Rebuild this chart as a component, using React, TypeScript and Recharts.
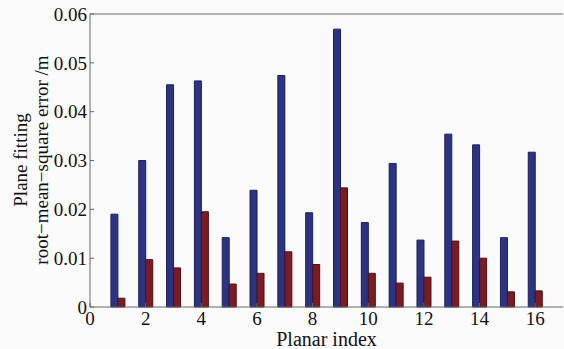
import { ComposedChart, Bar, XAxis, YAxis, ReferenceLine } from 'recharts';

const planarIndex = [1, 2, 3, 4, 5, 6, 7, 8, 9, 10, 11, 12, 13, 14, 15, 16];
const errorBefore = [0.0190, 0.0300, 0.0455, 0.0463, 0.0142, 0.0239, 0.0474, 0.0193, 0.0569, 0.0173, 0.0294, 0.0137, 0.0354, 0.0332, 0.0142, 0.0317];
const errorAfter = [0.0018, 0.0097, 0.0080, 0.0195, 0.0047, 0.0069, 0.0113, 0.0087, 0.0244, 0.0069, 0.0049, 0.0061, 0.0135, 0.0100, 0.0031, 0.0033];
const xTicks = [0, 2, 4, 6, 8, 10, 12, 14, 16];
const yTicks = [0, 0.01, 0.02, 0.03, 0.04, 0.05, 0.06];

const data = planarIndex.map((x, i) => ({ x, before: errorBefore[i], after: errorAfter[i] }));

const FONT = '"Liberation Serif", "Times New Roman", "DejaVu Serif", serif';
const AXIS = '#666';

export default function App() {
  return (
    <div style={{ position: 'absolute', left: 0, top: 0, width: 564, height: 349, background: '#fbfbfb', fontFamily: FONT }}>
      <ComposedChart width={564} height={349} data={data} barGap={0} margin={{ top: 14, right: 1, bottom: 0, left: 0 }}>
        <XAxis
          dataKey="x"
          type="number"
          domain={[0, 17]}
          ticks={xTicks}
          interval={0}
          stroke={AXIS}
          tickSize={-4}
          tickMargin={9}
          tick={{ fill: '#111', fontSize: 19, fontFamily: FONT }}
          height={42}
          label={{ value: 'Planar index', position: 'insideBottom', offset: 3, fill: '#111', fontSize: 20, fontFamily: FONT }}
        />
        <XAxis xAxisId="top" dataKey="x" type="number" domain={[0, 17]} ticks={xTicks} orientation="top" stroke={AXIS} tickSize={-4} tick={false} height={0} />
        <YAxis
          type="number"
          domain={[0, 0.06]}
          ticks={yTicks}
          interval={0}
          stroke={AXIS}
          tickSize={-4}
          tickMargin={7}
          tickFormatter={(v: number) => (v === 0 ? '0' : v.toFixed(2))}
          tick={{ fill: '#111', fontSize: 19, fontFamily: FONT }}
          width={90}
        />
        <YAxis yAxisId="right" type="number" domain={[0, 0.06]} ticks={yTicks} orientation="right" stroke={AXIS} tickSize={-4} tick={false} width={0} />
        <Bar dataKey="before" fill="#2c3382" stroke="#1b205e" strokeWidth={1} barSize={7} isAnimationActive={false} />
        <Bar dataKey="after" fill="#7b1c23" stroke="#4d1014" strokeWidth={1} barSize={7} isAnimationActive={false} />
        <ReferenceLine y={0.06} stroke={AXIS} />
      </ComposedChart>
      <div
        style={{
          position: 'absolute',
          left: 31,
          top: 160,
          transform: 'translate(-50%, -50%) rotate(-90deg)',
          whiteSpace: 'nowrap',
          textAlign: 'center',
          fontFamily: FONT,
          fontSize: 19,
          lineHeight: '21px',
          color: '#111',
        }}
      >
        Plane fitting
        <br />
        root−mean−square error /m
      </div>
    </div>
  );
}
